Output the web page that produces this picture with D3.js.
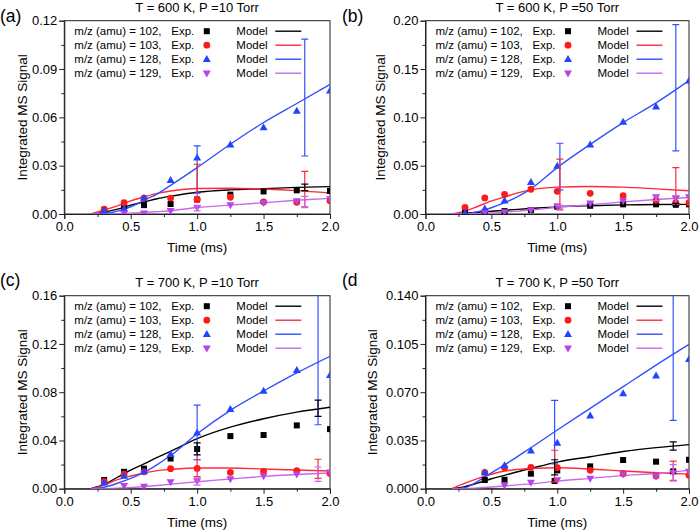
<!DOCTYPE html>
<html><head><meta charset="utf-8">
<script src="https://cdn.jsdelivr.net/npm/d3@7"></script>
<style>body{margin:0;background:#fff} svg{display:block} text{font-family:"Liberation Sans",Arial,sans-serif;fill:#000}</style>
</head><body><svg id="c" width="700" height="532"></svg>
<script>
// ---------- shared data ----------
const massLabels = ["m/z (amu) = 102,", "m/z (amu) = 103,", "m/z (amu) = 128,", "m/z (amu) = 129,"];
const modelT = [0.2, 0.3, 0.4, 0.5, 0.6, 0.7, 0.8, 1.0, 1.25, 1.5, 1.75, 2.0];
const xTicks = [0, 0.5, 1.0, 1.5, 2.0];

// ---------- panel (a): T = 600 K, P = 10 Torr ----------
const aTitle = "T = 600 K, P =10 Torr";
const aYTicks = [0, 0.03, 0.06, 0.09, 0.12];
const aExpT   = [0.3, 0.45, 0.6, 0.8, 1.0, 1.25, 1.5, 1.75, 2.0];
const aExp102 = [0.0025, 0.005, 0.0055, 0.0062, 0.009, 0.012, 0.014, 0.0147, 0.0143];
const aExp103 = [0.003, 0.007, 0.0098, 0.0099, 0.009, 0.0104, 0.0075, 0.0073, 0.0083];
const aExp128 = [0.002, 0.0033, 0.0099, 0.021, 0.035, 0.043, 0.0537, 0.064, 0.0765];
const aExp129 = [null, 0.0005, 0.0005, 0.002, 0.004, 0.0055, 0.007, 0.008, 0.0093];
const aMod102 = [0, 0.0012, 0.003, 0.0055, 0.0075, 0.0095, 0.011, 0.0135, 0.015, 0.0157, 0.0165, 0.017];
const aMod103 = [0, 0.0025, 0.005, 0.0082, 0.0106, 0.0128, 0.0143, 0.0158, 0.016, 0.0155, 0.0145, 0.013];
const aMod128 = [0, 0.0003, 0.0018, 0.0045, 0.0085, 0.0125, 0.0178, 0.0288, 0.0433, 0.0568, 0.0686, 0.0805];
const aMod129 = [0, 0, 0.0002, 0.0005, 0.001, 0.0015, 0.002, 0.004, 0.0055, 0.007, 0.0085, 0.0097];
// [series index, time, low, high]
const aErr = [[2, 1.0, 0.013, 0.0423], [1, 1.0, 0.009, 0.0309], [3, 1.0, 0.002, 0.005],
              [2, 1.81, 0.036, 0.1085], [1, 1.81, 0.0045, 0.0265], [3, 1.81, 0.0040, 0.011], [0, 1.81, 0.0145, 0.0185]];

// ---------- panel (b): T = 600 K, P = 50 Torr ----------
const bTitle = "T = 600 K, P =50 Torr";
const bYTicks = [0, 0.05, 0.10, 0.15, 0.20];
const bExpT   = [0.3, 0.45, 0.6, 0.8, 1.0, 1.25, 1.5, 1.75, 1.9, 2.0];
const bExp102 = [0.002, 0.002, 0.003, 0.004, 0.0075, 0.0085, 0.010, 0.010, 0.0095, 0.010];
const bExp103 = [0.0069, 0.0166, 0.0204, 0.0256, 0.0235, 0.0214, 0.019, 0.0142, 0.0117, 0.0117];
const bExp128 = [0.001, 0.0055, 0.0138, 0.033, 0.0497, 0.0718, 0.0953, 0.111, null, 0.138];
const bExp129 = [null, 0.001, 0.002, 0.004, 0.008, 0.011, 0.0135, 0.0176, 0.016, 0.0176];
const bMod102 = [0, 0.0008, 0.0018, 0.0028, 0.0038, 0.0048, 0.0057, 0.0074, 0.0086, 0.0094, 0.0098, 0.010];
const bMod103 = [0, 0.003, 0.008, 0.0135, 0.0176, 0.0218, 0.025, 0.0278, 0.0285, 0.0278, 0.026, 0.024];
const bMod128 = [0, 0.0003, 0.0025, 0.0065, 0.0117, 0.018, 0.026, 0.048, 0.072, 0.0946, 0.115, 0.138];
const bMod129 = [0, 0, 0.0003, 0.001, 0.002, 0.003, 0.004, 0.007, 0.0095, 0.0125, 0.015, 0.017];
const bErr = [[2, 1.02, 0.025, 0.0732], [1, 1.02, 0.005, 0.0567], [3, 1.02, 0.004, 0.009],
              [2, 1.9, 0.0653, 0.196], [1, 1.9, 0.009, 0.048], [3, 1.75, 0.014, 0.020], [3, 1.9, 0.010, 0.019], [0, 1.9, 0.009, 0.011]];

// ---------- panel (c): T = 700 K, P = 10 Torr ----------
const cTitle = "T = 700 K, P =10 Torr";
const cYTicks = [0, 0.04, 0.08, 0.12, 0.16];
const cExpT   = [0.3, 0.45, 0.6, 0.8, 1.0, 1.25, 1.5, 1.75, 2.0];
const cExp102 = [0.0072, 0.014, 0.0166, 0.025, 0.0329, 0.0436, 0.0445, 0.0525, 0.0494];
const cExp103 = [0.006, 0.012, 0.014, 0.0166, 0.0168, 0.0135, 0.0144, 0.0149, 0.0127];
const cExp128 = [0.005, 0.0105, 0.0144, 0.0287, 0.0464, 0.066, 0.081, 0.0983, 0.094];
const cExp129 = [null, 0.0025, 0.0017, 0.0055, 0.0064, 0.008, 0.0105, 0.012, 0.0135];
const cMod102 = [0, 0.0035, 0.0095, 0.0155, 0.0205, 0.026, 0.031, 0.0415, 0.051, 0.058, 0.0635, 0.0675];
const cMod103 = [0, 0.003, 0.0075, 0.0105, 0.013, 0.015, 0.016, 0.0172, 0.0172, 0.0163, 0.0155, 0.0147];
const cMod128 = [0, 0.0012, 0.0045, 0.0085, 0.0135, 0.020, 0.0275, 0.0455, 0.065, 0.081, 0.096, 0.1098];
const cMod129 = [0, 0, 0.0005, 0.001, 0.0018, 0.0027, 0.0037, 0.0058, 0.008, 0.0102, 0.0118, 0.0131];
const cErr = [[2, 1.0, 0.024, 0.0693], [0, 1.0, 0.028, 0.038], [1, 1.0, 0.010, 0.024], [3, 1.0, 0.003, 0.009],
              [2, 1.91, 0.053, 0.17], [0, 1.91, 0.060, 0.0735], [1, 1.91, 0.0085, 0.0244], [3, 1.91, 0.006, 0.018]];

// ---------- panel (d): T = 700 K, P = 50 Torr ----------
const dTitle = "T = 700 K, P =50 Torr";
const dYTicks = [0, 0.035, 0.070, 0.105, 0.140];
const dExpT   = [0.45, 0.6, 0.8, 0.98, 1.0, 1.25, 1.5, 1.75, 1.88, 2.0];
const dExp102 = [0.0063, 0.0065, 0.0109, 0.0056, 0.0133, 0.0162, 0.0208, 0.0196, 0.0126, 0.021];
const dExp103 = [0.0118, 0.0152, 0.0155, null, 0.0152, 0.0133, 0.0109, 0.0092, null, 0.0097];
const dExp128 = [0.0118, 0.0169, 0.0276, null, 0.0331, 0.053, 0.0691, 0.082, null, 0.094];
const dExp129 = [null, 0.0024, 0.0044, null, 0.0063, 0.0073, 0.0104, 0.0092, 0.0116, 0.0124];
const dMod102 = [0, 0.0015, 0.0042, 0.0072, 0.0097, 0.0123, 0.0147, 0.0193, 0.0232, 0.027, 0.0298, 0.032];
const dMod103 = [0, 0.004, 0.0075, 0.0105, 0.0128, 0.014, 0.0147, 0.0152, 0.0143, 0.0128, 0.0116, 0.0106];
const dMod128 = [0, 0.0008, 0.0055, 0.0115, 0.0172, 0.0235, 0.0297, 0.0426, 0.0583, 0.074, 0.0897, 0.1047];
const dMod129 = [0, 0, 0.0005, 0.0012, 0.002, 0.0028, 0.0035, 0.0055, 0.0075, 0.0095, 0.011, 0.0133];
const dErr = [[2, 0.98, 0.018, 0.0641], [1, 0.98, 0.005, 0.0279], [0, 0.98, 0.010, 0.021],
              [2, 1.88, 0.0496, 0.15], [0, 1.88, 0.028, 0.0339], [1, 1.88, 0.006, 0.020], [3, 1.88, 0.0055, 0.0175]];

// ---------- styles ----------
const markerColor = ["#000000", "#ff1a1a", "#2244ff", "#b844e6"];
const lineColor   = ["#000000", "#ff2a3a", "#3350ff", "#c868ee"];
const markerShape = ["square", "circle", "up", "down"];

const panels = [
  {label: "(a)", title: aTitle, yTicks: aYTicks, fmt: ".2f", expT: aExpT, exp: [aExp102, aExp103, aExp128, aExp129], mod: [aMod102, aMod103, aMod128, aMod129], err: aErr,
   L: 64.3, R: 330, T: 20.7, B: 214, lx: 0, ly: 22, yl: 22},
  {label: "(b)", title: bTitle, yTicks: bYTicks, fmt: ".2f", expT: bExpT, exp: [bExp102, bExp103, bExp128, bExp129], mod: [bMod102, bMod103, bMod128, bMod129], err: bErr,
   L: 425.5, R: 689, T: 20.7, B: 214, lx: 342, ly: 22, yl: 380},
  {label: "(c)", title: cTitle, yTicks: cYTicks, fmt: ".2f", expT: cExpT, exp: [cExp102, cExp103, cExp128, cExp129], mod: [cMod102, cMod103, cMod128, cMod129], err: cErr,
   L: 64.3, R: 330, T: 295.7, B: 488.7, lx: 0, ly: 286, yl: 22},
  {label: "(d", title: dTitle, yTicks: dYTicks, fmt: ".3f", expT: dExpT, exp: [dExp102, dExp103, dExp128, dExp129], mod: [dMod102, dMod103, dMod128, dMod129], err: dErr,
   L: 425.5, R: 689, T: 295.7, B: 488.7, lx: 342, ly: 286, yl: 372}
];

const svg = d3.select("#c");
const axisColor = "#222";

function drawMarker(g, shape, x, y, color) {
  if (shape === "square") {
    g.append("rect").attr("x", x - 3).attr("y", y - 3).attr("width", 6).attr("height", 6).attr("fill", color);
  } else if (shape === "circle") {
    g.append("circle").attr("cx", x).attr("cy", y).attr("r", 3.4).attr("fill", color);
  } else if (shape === "up") {
    g.append("path").attr("d", `M${x},${y - 4.2}L${x + 4},${y + 2.8}L${x - 4},${y + 2.8}Z`).attr("fill", color);
  } else {
    g.append("path").attr("d", `M${x},${y + 4.2}L${x + 4},${y - 2.8}L${x - 4},${y - 2.8}Z`).attr("fill", color);
  }
}

panels.forEach((p, pi) => {
  const x = d3.scaleLinear().domain([0, 2]).range([p.L, p.R]);
  const yMax = p.yTicks[p.yTicks.length - 1];
  const y = d3.scaleLinear().domain([0, yMax]).range([p.B, p.T]);
  const g = svg.append("g");

  const clipId = "clip" + pi;
  svg.append("clipPath").attr("id", clipId).append("rect")
    .attr("x", p.L).attr("y", p.T).attr("width", p.R - p.L).attr("height", p.B - p.T);

  const yStep = p.yTicks[1] - p.yTicks[0];
  const yMinor = p.yTicks.slice(0, -1).map(v => v + yStep / 2);
  const xMinor = xTicks.slice(0, -1).map(v => v + 0.25);

  g.append("g").attr("transform", `translate(${p.L},0)`)
    .call(d3.axisLeft(y).tickValues(p.yTicks).tickFormat(d3.format(p.fmt)).tickSize(5).tickPadding(2));
  g.append("g").attr("transform", `translate(${p.L},0)`)
    .call(d3.axisLeft(y).tickValues(yMinor).tickFormat("").tickSize(3))
    .call(s => s.select(".domain").remove());
  g.append("g").attr("transform", `translate(0,${p.B})`)
    .call(d3.axisBottom(x).tickValues(xTicks).tickFormat(d3.format(".1f")).tickSize(5).tickPadding(3));
  g.append("g").attr("transform", `translate(0,${p.B})`)
    .call(d3.axisBottom(x).tickValues(xMinor).tickFormat("").tickSize(3))
    .call(s => s.select(".domain").remove());
  g.selectAll(".tick text").attr("font-size", 13).style("font-family", '"Liberation Sans",Arial,sans-serif').attr("fill", "#000");
  g.selectAll(".tick line").attr("stroke", axisColor);
  g.selectAll(".domain").attr("stroke", axisColor);

  g.append("rect").attr("x", p.L).attr("y", p.T).attr("width", p.R - p.L).attr("height", p.B - p.T)
    .attr("fill", "none").attr("stroke", axisColor).attr("stroke-width", 1);

  g.append("text").attr("x", (p.L + p.R) / 2).attr("y", p.T - 8.5).attr("text-anchor", "middle")
    .attr("font-size", 13).text(p.title);
  g.append("text").attr("x", p.lx).attr("y", p.ly).attr("font-size", 17.5).text(p.label);
  g.append("text").attr("transform", `translate(${p.yl},${(p.T + p.B) / 2}) rotate(-90)`)
    .attr("text-anchor", "middle").attr("dominant-baseline", "central").attr("font-size", 13.5).text("Integrated MS Signal");
  g.append("text").attr("x", (p.L + p.R) / 2).attr("y", p.B + 38).attr("text-anchor", "middle")
    .attr("font-size", 13.5).text("Time (ms)");

  const dg = g.append("g").attr("clip-path", `url(#${clipId})`);
  const line = d3.line().x(d => x(d[0])).y(d => y(d[1])).curve(d3.curveMonotoneX);
  p.mod.forEach((vals, si) => {
    dg.append("path").datum(modelT.map((t, i) => [t, vals[i]]))
      .attr("d", line).attr("fill", "none").attr("stroke", lineColor[si]).attr("stroke-width", 1.4);
  });
  p.exp.forEach((vals, si) => {
    vals.forEach((v, i) => {
      if (v === null) return;
      drawMarker(dg, markerShape[si], x(p.expT[i]), y(v), markerColor[si]);
    });
  });
  p.err.forEach(([si, t, lo, hi]) => {
    const xx = x(t);
    dg.append("line").attr("x1", xx).attr("x2", xx).attr("y1", y(lo)).attr("y2", y(hi))
      .attr("stroke", lineColor[si]).attr("stroke-width", 1.2);
    [lo, hi].forEach(v => {
      dg.append("line").attr("x1", xx - 3.5).attr("x2", xx + 3.5).attr("y1", y(v)).attr("y2", y(v))
        .attr("stroke", lineColor[si]).attr("stroke-width", 1.2);
    });
  });

  const lg = g.append("g");
  massLabels.forEach((lab, si) => {
    const cy = p.T + 10.5 + si * 14;
    lg.append("text").attr("x", p.L + 10).attr("y", cy + 4).attr("font-size", 11.5).text(lab);
    lg.append("text").attr("x", p.L + 107).attr("y", cy + 4).attr("font-size", 11.5).text("Exp.");
    drawMarker(lg, markerShape[si], p.L + 142.5, cy, markerColor[si]);
    lg.append("text").attr("x", p.L + 172).attr("y", cy + 4).attr("font-size", 11.5).text("Model");
    lg.append("line").attr("x1", p.L + 211).attr("x2", p.L + 237).attr("y1", cy).attr("y2", cy)
      .attr("stroke", lineColor[si]).attr("stroke-width", 1.4);
  });
});
</script>
</body></html>
